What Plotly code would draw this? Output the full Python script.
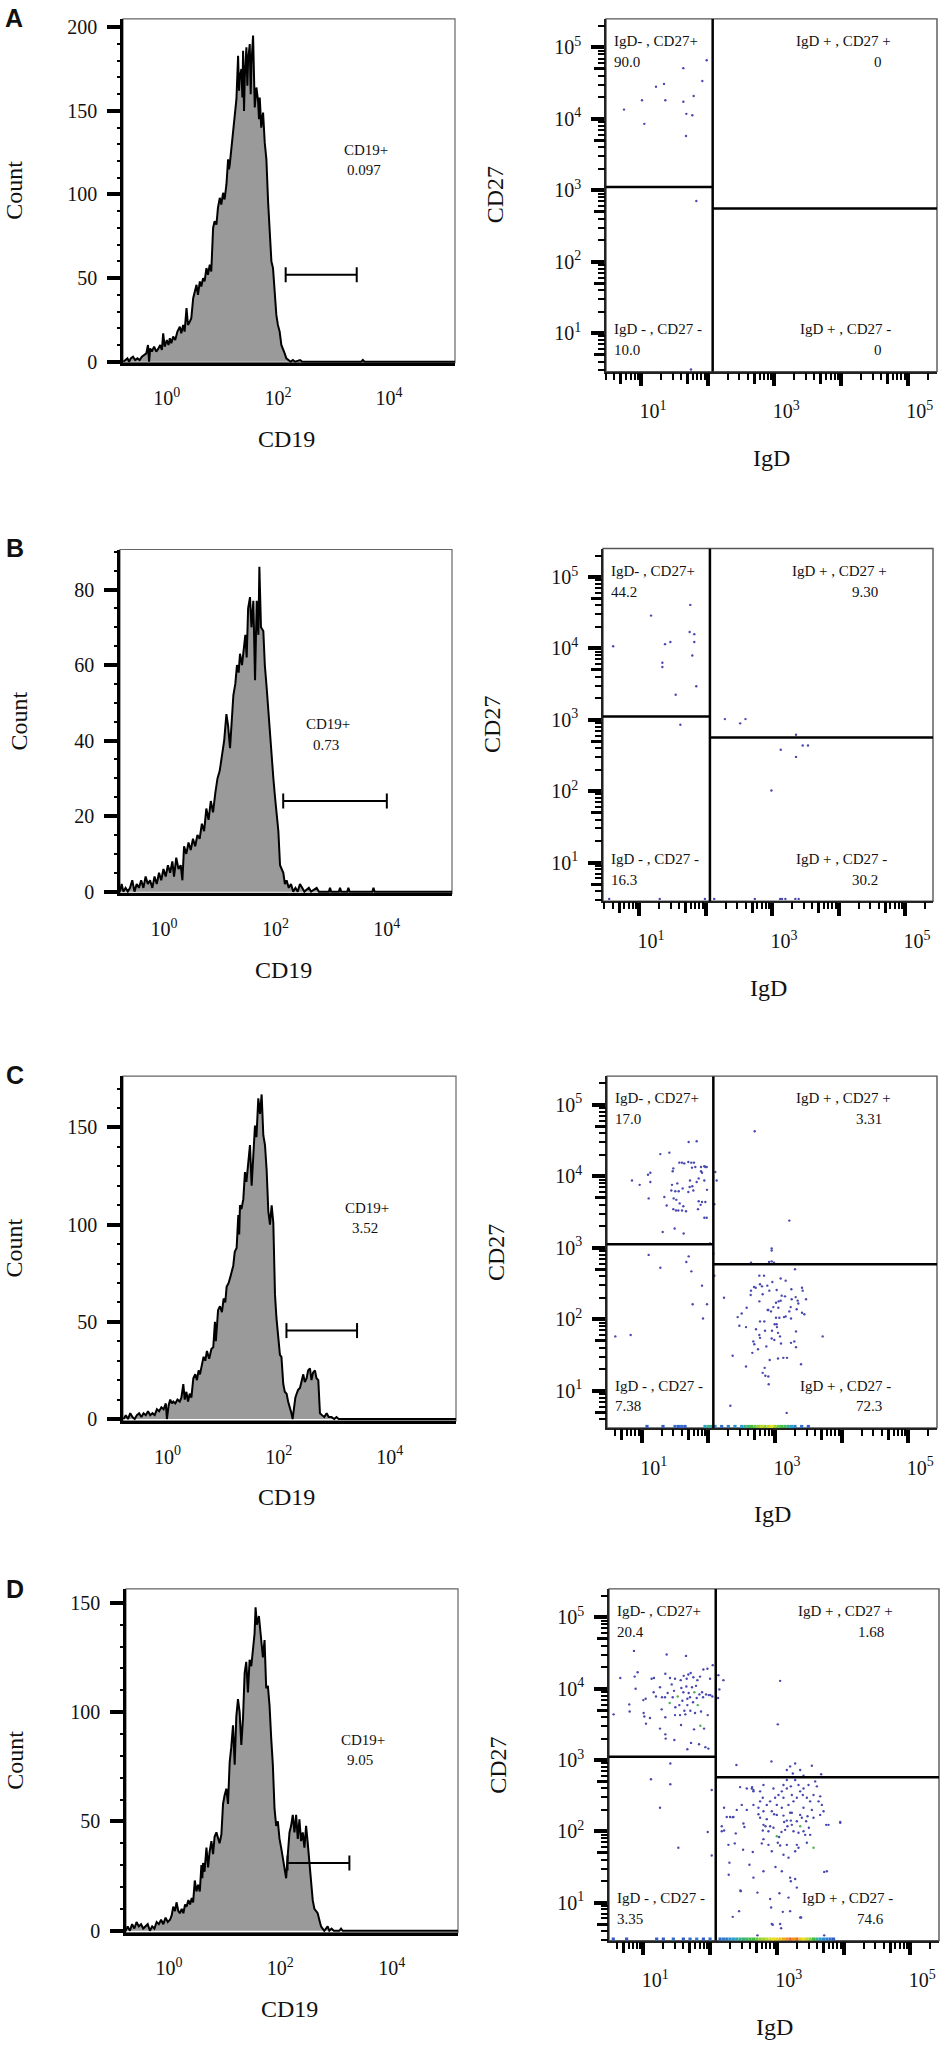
import plotly.graph_objects as go

W, H = 941, 2053
SERIF = "Liberation Serif, Times New Roman, serif"
SANS = "Liberation Sans, Arial, sans-serif"

panels = ["A", "B", "C", "D"]

# ---------------- Histogram data: log10(CD19) bin position, count ----------------
histA_log = [-0.785, -0.75, -0.71, -0.68, -0.65, -0.61, -0.57, -0.53, -0.49, -0.45, -0.41, -0.37, -0.34, -0.32,
             -0.30, -0.27, -0.23, -0.19, -0.15, -0.12, -0.09, -0.066, -0.04, 0.00, 0.03, 0.054, 0.08, 0.114,
             0.15, 0.19, 0.234, 0.26, 0.294, 0.32, 0.354, 0.38, 0.414, 0.44, 0.474, 0.50, 0.534, 0.56, 0.594,
             0.62, 0.653, 0.68, 0.713, 0.74, 0.773, 0.80, 0.833, 0.86, 0.893, 0.92, 0.953, 0.98, 1.013, 1.04,
             1.073, 1.103, 1.12, 1.133, 1.16, 1.193, 1.22, 1.253, 1.283, 1.30, 1.313, 1.343, 1.36, 1.373, 1.39,
             1.403, 1.433, 1.45, 1.463, 1.493, 1.51, 1.523, 1.553, 1.57, 1.583, 1.613, 1.643, 1.66, 1.673, 1.70,
             1.733, 1.763, 1.793, 1.823, 1.853, 1.883, 1.912, 1.942, 1.972, 2.00, 2.032, 2.062, 2.092, 2.122,
             2.152, 2.19, 2.23, 2.27, 2.31, 2.40, 2.44, 3.50, 3.53, 3.56, 5.19]
histA_count = [0, 1, 2, 0, 2, 3, 1, 2, 1, 3, 4, 5, 10, 0,
               8, 6, 9, 6, 8, 10, 7, 17, 9, 13, 10, 14, 11, 15,
               13, 18, 21, 17, 22, 18, 32, 22, 24, 26, 38, 42, 46, 40, 48,
               45, 50, 48, 56, 52, 58, 54, 80, 84, 82, 92, 98, 94, 101, 97,
               106, 121, 115, 118, 126, 137, 146, 157, 183, 162, 170, 175, 158, 186, 150,
               170, 188, 165, 180, 190, 160, 178, 195, 165, 152, 164, 156, 145, 158, 140,
               149, 131, 121, 96, 76, 60, 56, 40, 28, 22, 18, 10, 8, 5,
               2, 1, 0, 1, 0, 1, 0, 0, 1, 0, 0]

histB_log = [-0.79, -0.76, -0.73, -0.69, -0.65, -0.61, -0.57, -0.53, -0.49, -0.45, -0.41, -0.37, -0.33, -0.29,
             -0.25, -0.21, -0.17, -0.13, -0.09, -0.05, -0.01, 0.03, 0.07, 0.11, 0.15, 0.18, 0.22, 0.26, 0.30,
             0.33, 0.36, 0.40, 0.44, 0.48, 0.52, 0.56, 0.60, 0.64, 0.68, 0.72, 0.76, 0.80, 0.84, 0.88, 0.92,
             0.96, 1.00, 1.04, 1.08, 1.12, 1.15, 1.185, 1.22, 1.245, 1.28, 1.31, 1.34, 1.364, 1.40, 1.43, 1.46,
             1.484, 1.51, 1.544, 1.57, 1.604, 1.634, 1.664, 1.694, 1.712, 1.741, 1.783, 1.81, 1.843, 1.87,
             1.903, 1.93, 1.963, 1.993, 2.02, 2.053, 2.083, 2.11, 2.142, 2.17, 2.20, 2.24, 2.28, 2.32, 2.36,
             2.40, 2.44, 2.48, 2.52, 2.60, 2.64, 2.74, 2.78, 2.96, 2.98, 3.00, 3.14, 3.16, 3.18, 3.29, 3.31,
             3.33, 3.74, 3.76, 3.78, 5.17]
histB_count = [0, 2, 0, 1, 0, 1, 3, 0, 2, 1, 3, 1, 4, 2,
               3, 1, 4, 2, 5, 3, 6, 4, 7, 5, 8, 4, 9, 6, 7,
               3, 12, 10, 13, 11, 14, 12, 15, 14, 18, 16, 22, 19, 24, 21, 26,
               30, 32, 36, 40, 47, 44, 38, 46, 52, 55, 60, 58, 63, 60, 65, 68,
               62, 75, 78, 70, 77, 56, 77, 68, 86, 70, 69, 60, 54, 48,
               43, 36, 30, 25, 20, 16, 7, 6, 5, 2, 3, 1, 2, 0, 1,
               0, 2, 1, 0, 1, 0, 1, 0, 0, 1, 0, 0, 1, 0, 0, 1,
               0, 0, 1, 0, 0]

histC_log = [-0.79, -0.75, -0.71, -0.67, -0.63, -0.59, -0.55, -0.51, -0.47, -0.43, -0.39, -0.35, -0.31, -0.27,
             -0.23, -0.19, -0.15, -0.11, -0.07, -0.03, -0.01, 0.02, 0.05, 0.08, 0.105, 0.14, 0.18, 0.22, 0.25,
             0.285, 0.31, 0.34, 0.37, 0.40, 0.43, 0.465, 0.50, 0.53, 0.56, 0.585, 0.62, 0.65, 0.68, 0.71, 0.75,
             0.79, 0.824, 0.854, 0.87, 0.884, 0.91, 0.944, 0.98, 1.01, 1.04, 1.064, 1.10, 1.13, 1.16, 1.184,
             1.21, 1.244, 1.274, 1.29, 1.304, 1.33, 1.364, 1.394, 1.42, 1.454, 1.484, 1.514, 1.544, 1.574,
             1.60, 1.634, 1.664, 1.694, 1.724, 1.754, 1.784, 1.814, 1.844, 1.874, 1.904, 1.934, 1.96, 1.993,
             2.023, 2.05, 2.083, 2.11, 2.143, 2.17, 2.203, 2.23, 2.251, 2.28, 2.30, 2.323, 2.35, 2.383, 2.41,
             2.443, 2.47, 2.503, 2.53, 2.563, 2.59, 2.62, 2.653, 2.68, 2.713, 2.743, 2.78, 2.82, 2.863, 2.90,
             2.95, 3.00, 3.04, 3.08, 5.19]
histC_count = [0, 2, 0, 3, 1, 0, 2, 3, 1, 3, 2, 4, 2, 3,
               2, 5, 4, 6, 5, 8, 0, 7, 10, 8, 9, 8, 10, 9, 11,
               18, 10, 14, 9, 13, 11, 21, 23, 20, 25, 23, 28, 32, 30, 35, 31,
               36, 37, 50, 40, 48, 56, 58, 55, 62, 60, 68, 70, 73, 77, 79,
               86, 88, 105, 95, 110, 108, 113, 127, 122, 134, 141, 120, 138, 151,
               145, 165, 157, 167, 146, 141, 128, 107, 100, 110, 101, 64, 52, 42,
               33, 32, 18, 14, 13, 9, 6, 3, 0, 7, 11, 13, 15, 16, 20,
               23, 19, 21, 25, 26, 20, 24, 25, 21, 20, 3, 2, 1, 3, 1,
               1, 0, 1, 0, 0]

histD_log = [-0.775, -0.74, -0.70, -0.66, -0.62, -0.58, -0.54, -0.50, -0.46, -0.42, -0.38, -0.34, -0.30, -0.26,
             -0.22, -0.18, -0.14, -0.10, -0.06, -0.02, 0.02, 0.05, 0.078, 0.11, 0.137, 0.17, 0.197, 0.23, 0.26,
             0.29, 0.316, 0.35, 0.38, 0.41, 0.435, 0.465, 0.495, 0.525, 0.555, 0.584, 0.60, 0.614, 0.64, 0.674,
             0.704, 0.73, 0.763, 0.793, 0.82, 0.853, 0.883, 0.91, 0.942, 0.972, 1.00, 1.032, 1.061, 1.091, 1.12,
             1.151, 1.181, 1.21, 1.240, 1.270, 1.300, 1.330, 1.360, 1.389, 1.419, 1.449, 1.479, 1.509, 1.538,
             1.556, 1.580, 1.616, 1.658, 1.688, 1.717, 1.747, 1.777, 1.807, 1.837, 1.866, 1.896, 1.926, 1.956,
             1.986, 2.015, 2.045, 2.075, 2.105, 2.135, 2.165, 2.194, 2.224, 2.254, 2.284, 2.314, 2.343, 2.373,
             2.403, 2.433, 2.463, 2.493, 2.522, 2.552, 2.582, 2.612, 2.64, 2.671, 2.70, 2.731, 2.76, 2.79, 2.82,
             2.85, 2.88, 2.92, 2.96, 3.06, 3.09, 3.12, 5.19]
histD_count = [0, 2, 0, 3, 1, 4, 2, 3, 1, 2, 3, 0, 2, 1,
               4, 3, 5, 3, 6, 4, 5, 7, 11, 9, 13, 9, 8, 10, 8,
               12, 11, 14, 12, 15, 13, 23, 18, 21, 18, 30, 24, 31, 27, 38,
               29, 36, 41, 35, 43, 45, 42, 40, 44, 58, 62, 65, 58, 77, 84,
               94, 76, 98, 106, 100, 85, 97, 118, 123, 109, 124, 121, 129, 136,
               148, 140, 144, 133, 125, 133, 111, 112, 103, 88, 76, 56, 48, 50,
               42, 38, 33, 30, 24, 35, 45, 48, 53, 45, 53, 42, 51, 41,
               45, 38, 48, 40, 30, 21, 14, 10, 9, 8, 5, 2, 1, 0, 1,
               2, 0, 1, 0, 0, 1, 0, 0]

hist_logs = [histA_log, histB_log, histC_log, histD_log]
hist_counts = [histA_count, histB_count, histC_count, histD_count]
cd19_pct = ["0.097", "0.73", "3.52", "9.05"]
gate_lo = [2.14, 2.14, 2.14, 2.13]      # log10 CD19
gate_hi = [3.42, 4.00, 3.41, 3.24]
gate_count = [52, 24, 45.5, 31]
hist_yrange = [[-0.6, 205], [-0.45, 90.6], [-1.0, 176.4], [-0.9, 156.4]]
hist_xrange = [[-0.79, 5.19], [-0.79, 5.17], [-0.80, 5.19], [-0.77, 5.19]]
hist_major = [50, 20, 50, 50]
hist_minor = [10, 5, 10, 10]

# ---------------- Scatter data: log10(IgD), log10(CD27) ----------------
scA_x = [1.985, 1.635, 1.92, 1.345, 1.225, 1.015, 1.365, 1.635, 1.79, 0.745, 1.68, 1.77, 1.05, 1.675, 1.83, 1.75]
scA_y = [4.82, 4.71, 4.53, 4.49, 4.45, 4.26, 4.26, 4.24, 4.32, 4.13, 4.07, 4.05, 3.93, 3.76, 2.85, 0.49]

scB_x = [0.61, 1.18, 1.39, 1.47, 1.35, 1.35, 1.77, 1.76, 1.83, 1.83, 1.80, 1.55, 1.86, 1.62, 2.29, 2.52, 2.60,
         3.36, 3.13, 3.36, 3.46, 3.54, 2.99,
         0.55, 1.31, 1.99, 2.13, 2.74, 3.12, 3.15, 3.20, 3.35, 3.40]
scB_y = [4.03, 4.46, 4.06, 4.09, 3.80, 3.74, 4.61, 4.23, 4.20, 4.09, 3.90, 3.35, 3.47, 2.93, 3.01, 2.95, 3.01,
         2.79, 2.58, 2.48, 2.64, 2.64, 2.01,
         0.49, 0.49, 0.49, 0.49, 0.49, 0.49, 0.49, 0.49, 0.49, 0.49]

scC_x = [0.855, 0.97, 1.105, 1.095, 1.13, 1.13, 1.28, 1.415, 1.705, 1.825, 1.34, 1.375, 1.445, 1.455, 1.475,
         1.465, 1.505, 1.535, 1.52, 1.475, 1.555, 1.565, 1.605, 1.615, 1.625, 1.665, 1.55, 1.605, 1.70, 1.72,
         1.745, 1.785, 1.755, 1.76, 1.775, 1.825, 1.855, 1.89, 1.89, 1.905, 1.94, 1.955, 1.975, 1.94, 1.98,
         1.855, 1.905, 1.955, 1.845, 1.885, 1.94, 1.975, 1.315, 1.495, 1.63, 2.105, 2.125, 2.09, 1.725, 1.70,
         1.64, 1.48, 1.515, 1.57, 1.805, 2.025, 2.075,
         2.695, 3.215, 2.95, 2.95, 2.64, 2.91, 2.95, 2.985,
         1.105, 1.28, 1.67, 1.705, 1.745, 1.905, 1.765, 1.98, 1.92, 0.605, 0.835, 2.09,
         2.235, 2.365, 2.33, 2.44, 2.465, 2.565, 2.50, 2.575, 2.635, 2.64, 2.685, 2.71, 2.775, 2.805, 2.765,
         2.835, 2.885, 2.815, 2.765, 2.715, 2.765, 2.775, 2.675, 2.69, 2.66, 2.565, 2.815, 2.845, 2.855, 2.90,
         2.905, 2.84, 2.89, 2.90, 2.94, 2.975, 3.015, 3.055, 3.085, 3.135, 3.16, 3.065, 3.015, 2.995, 3.025,
         3.03, 2.955, 2.95, 3.045, 3.075, 3.09, 3.125, 3.045, 3.18, 3.215, 3.24, 3.25, 3.31, 3.34, 3.35, 3.325,
         3.235, 3.245, 3.16, 3.30, 3.405, 3.415, 3.465, 3.405, 3.44, 3.315, 3.29, 3.24, 3.315, 3.39, 3.715,
         3.175, 2.96, 3.085, 2.915, 3.025, 3.05, 3.10, 2.85, 2.775, 2.87, 2.92, 2.745, 2.99, 3.15]
scC_y = [3.94, 3.88, 3.69, 4.02, 4.05, 3.92, 4.31, 4.33, 4.48, 4.49, 3.71, 3.59, 3.80, 3.88, 4.11,
         4.07, 3.79, 3.90, 3.67, 3.54, 3.79, 4.19, 4.19, 3.83, 3.58, 3.51, 3.52, 3.52, 3.78, 3.85,
         4.19, 4.19, 4.12, 3.86, 3.80, 3.92, 3.97, 4.07, 4.13, 4.05, 4.14, 4.13, 4.13, 3.94, 3.81,
         3.65, 3.64, 3.64, 3.54, 3.60, 3.42, 3.42, 3.22, 3.27, 3.20, 4.06, 3.94, 3.61, 3.94, 4.20,
         4.18, 3.69, 3.52, 3.62, 4.13, 3.06, 2.92,
         4.63, 3.38, 2.99, 2.96, 2.79, 2.80, 2.81, 2.79,
         2.90, 2.72, 2.80, 2.88, 2.67, 2.47, 2.21, 2.21, 2.01, 1.76, 1.78, 2.61,
         2.30, 1.49, 0.79, 2.03, 1.91, 1.89, 2.08, 2.16, 2.34, 2.40, 2.45, 2.44, 2.49, 2.46, 2.61,
         2.61, 2.47, 2.35, 2.25, 1.86, 1.78, 1.74, 1.69, 1.65, 1.53, 1.34, 1.25, 1.32, 1.21, 1.20,
         1.09, 1.97, 2.13, 2.13, 2.11, 2.17, 2.23, 2.25, 2.26, 2.03, 2.04, 2.02, 2.02, 1.93, 1.93,
         1.89, 1.84, 1.73, 1.81, 1.76, 1.66, 1.46, 1.45, 1.46, 2.11, 2.01, 2.28, 2.31, 2.26, 2.22, 2.14,
         2.17, 2.42, 2.54, 2.70, 2.44, 2.40, 2.28, 2.09, 2.07, 1.83, 1.69, 1.67, 1.61, 1.37, 1.76,
         0.69, 2.52, 2.57, 2.40, 2.41, 2.16, 2.33, 1.84, 1.97, 1.62, 1.43, 1.58, 1.71, 2.32]

scD_x = [0.885, 0.555, 0.79, 0.795, 1.00, 1.035, 1.005, 1.015, 1.10, 1.04, 1.155, 1.19, 1.25, 1.28, 1.325,
         1.275, 1.25, 1.33, 1.33, 1.335, 1.365, 1.425, 1.44, 1.46, 1.48, 1.475, 1.465, 1.54, 1.55, 1.565,
         1.57, 1.585, 1.60, 1.615, 1.63, 1.645, 1.66, 1.66, 1.68, 1.70, 1.705, 1.715, 1.73, 1.745, 1.76,
         1.775, 1.79, 1.80, 1.835, 1.84, 1.865, 1.88, 1.895, 1.91, 1.93, 1.94, 1.965, 1.975, 1.98, 2.005,
         2.035, 1.66,
         0.86, 1.35, 1.64, 0.655, 0.915, 0.87, 1.125, 1.16, 1.33, 1.40, 1.475, 1.605, 1.675, 1.71, 1.75,
         1.85, 1.90, 1.96, 2.04, 2.00, 1.81, 1.56, 1.65,
         1.405, 1.115, 1.405, 2.025, 1.25, 1.525, 1.965, 2.025,
         2.12, 2.14, 2.125, 2.20, 3.05, 3.015, 2.92, 2.395, 3.15, 3.20, 3.275, 3.24, 3.35, 3.525, 3.665, 3.40,
         2.45, 2.63, 2.65,
         2.175, 2.21, 2.34, 2.30, 2.385, 2.50, 2.515, 2.29, 2.28, 2.37, 2.495, 2.59, 2.64, 2.455, 2.435, 2.34,
         2.71, 2.79, 2.83, 2.775, 2.80, 2.75, 2.725, 2.875, 2.90, 2.95, 2.875, 2.925, 2.96, 3.015, 3.035,
         3.05, 3.10, 3.11, 3.125, 3.15, 3.15, 3.175, 3.225, 3.21, 3.225, 3.25, 3.275, 3.30, 3.325, 3.375,
         3.40, 3.44, 3.46, 3.48, 3.50, 3.71, 3.75, 3.74, 3.95, 3.20, 3.21, 3.275, 3.30, 3.04, 3.175, 2.90,
         2.915, 3.065, 3.05, 2.94, 3.35, 3.20, 3.09, 2.85, 2.80, 3.07, 3.16, 3.30, 3.325, 3.425, 3.45, 3.10,
         3.075, 2.98, 2.80, 2.65,
         2.25, 2.35, 2.175, 2.275, 2.21, 2.40, 2.475, 2.55, 2.625, 2.65, 2.75, 2.79, 2.725, 2.80, 2.85, 2.90,
         2.975, 3.0, 3.025, 3.075, 3.10, 3.15, 3.21, 3.275, 3.325, 3.35, 3.225, 3.25, 3.30, 3.39, 3.45, 3.50,
         3.55, 3.60, 3.65, 3.675, 3.625, 3.475, 3.575, 3.525, 3.10, 3.175, 2.925, 3.075, 3.40, 3.70, 3.775,
         3.95, 2.80, 2.95, 3.40, 3.15, 2.75, 2.65, 2.55, 3.0, 3.20, 3.35, 3.65, 3.55,
         2.46, 2.925, 3.365, 3.71, 2.71]
scD_y = [4.00, 3.64, 3.78, 3.68, 3.84, 3.86, 3.66, 3.61, 3.59, 3.51, 3.95, 3.89, 4.02, 3.88, 3.88,
         3.71, 3.44, 3.60, 3.36, 3.30, 3.94, 4.06, 3.88, 3.97, 3.74, 3.63, 3.28, 3.77, 3.63, 3.49,
         4.01, 3.83, 3.95, 3.69, 3.64, 4.03, 3.86, 3.77, 3.94, 3.88, 3.69, 3.24, 4.02, 3.81, 3.43,
         3.66, 4.04, 3.87, 3.22, 3.92, 3.68, 3.95, 3.88, 3.44, 3.18, 3.92, 3.63, 3.16, 3.91, 3.91,
         3.89, 3.15,
         4.53, 4.48, 4.46, 4.15, 4.23, 4.17, 4.14, 4.15, 4.21, 4.15, 4.14, 4.18, 4.20, 4.22, 4.16,
         4.17, 4.27, 4.28, 4.33, 4.14, 4.12, 4.12, 4.14,
         2.95, 2.73, 2.66, 2.58, 2.33, 1.77, 1.99, 1.66,
         3.87, 3.99, 4.19, 4.12, 4.11, 3.50, 2.98, 2.93, 2.86, 2.91, 2.95, 2.81, 2.86, 2.92, 2.80, 2.78,
         2.62, 2.62, 2.58,
         2.07, 2.01, 2.198, 2.20, 1.97, 2.11, 2.06, 1.56, 1.39, 1.83, 1.74, 1.53, 1.71, 1.17, 0.88, 0.80,
         1.14, 2.01, 2.07, 1.83, 1.89, 2.19, 2.24, 2.00, 2.07, 2.05, 1.81, 1.72, 2.24, 1.84, 1.92,
         1.80, 2.22, 2.13, 2.02, 2.15, 1.81, 1.63, 2.26, 2.15, 2.09, 2.00, 1.72, 1.81, 1.77, 2.19,
         2.00, 2.14, 2.21, 2.05, 1.95, 1.43, 1.44, 2.09, 2.13, 1.35, 1.30, 1.33, 1.21, 1.13, 1.07, 1.05,
         0.93, 0.64, 0.70, 0.69, 0.79, 0.88, 0.87, 2.17, 2.09, 1.99, 2.07, 2.14, 1.98, 1.95, 1.84, 1.67,
         1.44, 1.50, 1.44, 1.35,
         2.20, 2.20, 2.0, 1.81, 2.33, 2.30, 2.37, 2.60, 2.60, 2.56, 2.56, 2.47, 2.33, 2.28, 2.37, 2.42,
         2.47, 2.37, 2.51, 2.56, 2.65, 2.60, 2.63, 2.72, 2.65, 2.56, 2.51, 2.42, 2.47, 2.51, 2.47, 2.42,
         2.51, 2.63, 2.49, 2.37, 2.42, 2.65, 2.70, 2.30, 2.47, 2.37, 2.28, 2.33, 2.33, 2.28, 2.09,
         2.12, 2.65, 2.60, 2.60, 2.72, 2.42, 2.37, 2.30, 2.23, 2.26, 2.23, 2.23, 2.19,
         1.16, 0.70, 0.79, 0.54, 0.54]

scD_green_x = [1.395, 1.515, 1.765, 1.815, 1.855, 3.0, 3.35, 3.55]
scD_green_y = [3.80, 3.89, 3.95, 3.77, 3.48, 1.93, 2.07, 1.77]

# events piled up on the IgD axis (log10 IgD, relative density)
stripC_x = [1.08, 1.32, 1.50, 1.55, 1.60, 1.65, 1.95, 2.00, 2.05, 2.10, 2.20, 2.30, 2.40, 2.50, 2.55, 2.60,
            2.65, 2.70, 2.75, 2.80, 2.85, 2.90, 2.95, 3.00, 3.05, 3.10, 3.15, 3.20, 3.25, 3.30, 3.40, 3.50]
stripC_d = [0.1, 0.1, 0.15, 0.1, 0.15, 0.1, 0.3, 0.45, 0.35, 0.25, 0.15, 0.2, 0.25, 0.3, 0.4, 0.45,
            0.5, 0.55, 0.6, 0.65, 0.6, 0.65, 0.7, 0.6, 0.55, 0.5, 0.45, 0.4, 0.3, 0.2, 0.15, 0.1]
stripD_x = [0.55, 0.75, 1.20, 1.30, 1.45, 1.60, 1.70, 1.80, 1.90, 2.00, 2.15, 2.20, 2.25, 2.30, 2.35, 2.40,
            2.45, 2.50, 2.55, 2.60, 2.65, 2.70, 2.75, 2.80, 2.85, 2.90, 2.95, 3.00, 3.05, 3.10, 3.15, 3.20,
            3.25, 3.30, 3.35, 3.40, 3.45, 3.50, 3.55, 3.60, 3.65, 3.70, 3.75, 3.80, 3.85]
stripD_d = [0.1, 0.1, 0.1, 0.1, 0.15, 0.1, 0.15, 0.2, 0.1, 0.15, 0.15, 0.2, 0.2, 0.25, 0.3, 0.35,
            0.4, 0.42, 0.45, 0.5, 0.5, 0.55, 0.6, 0.62, 0.65, 0.68, 0.7, 0.72, 0.75, 0.8, 0.85, 0.9,
            0.85, 0.9, 0.75, 0.7, 0.65, 0.6, 0.5, 0.4, 0.3, 0.25, 0.2, 0.15, 0.1]

sc_x = [scA_x, scB_x, scC_x, scD_x]
sc_y = [scA_y, scB_y, scC_y, scD_y]
strips = [None, None, (stripC_x, stripC_d), (stripD_x, stripD_d)]

quad_x = [2.075, 2.065, 2.075, 2.085]          # log10 IgD gate
quad_y_left = [3.047, 3.047, 3.05, 3.047]      # log10 CD27 gate (IgD-)
quad_y_right = [2.744, 2.753, 2.77, 2.758]     # log10 CD27 gate (IgD+)
quad_names = ["IgD- , CD27+", "IgD + , CD27 +", "IgD - , CD27 -", "IgD + , CD27 -"]
quad_pct = [["90.0", "0", "10.0", "0"],
            ["44.2", "9.30", "16.3", "30.2"],
            ["17.0", "3.31", "7.38", "72.3"],
            ["20.4", "1.68", "3.35", "74.6"]]
sc_xrange = [[0.475, 5.44], [0.457, 5.42], [0.48, 5.43], [0.486, 5.43]]
sc_yrange = [[0.46, 5.40], [0.457, 5.40], [0.48, 5.40], [0.466, 5.40]]

# ---------------- layout geometry (pixels: left, right, top, bottom) ----------------
hist_boxes = [(123, 455, 16, 362), (120, 452, 550, 896), (123, 456, 1080, 1427), (126, 458, 1596, 1942)]
sc_boxes = [(606, 937, 16, 371), (603, 933, 549, 904), (607, 937, 1080, 1434), (609, 939, 1596, 1950)]
count_x = [14, 19, 14, 15]
letter_pos = [(14, 15), (15, 548), (15, 1079), (15, 1596)]
hist_lab_pos = [(0.732, 0.618, 0.726, 0.561), (0.627, 0.492, 0.620, 0.431),
                (0.732, 0.618, 0.727, 0.561), (0.713, 0.561, 0.705, 0.502)]


def dom(box):
    l, r, t, b = box
    return [l / W, r / W], [1 - b / H, 1 - t / H]


def an(n):
    return "" if n == 1 else str(n)


def note(text, xref, yref, x, y, size, family=SERIF, xanchor="center", angle=0):
    return dict(text=text, xref=xref, yref=yref, x=x, y=y, xanchor=xanchor, yanchor="middle",
                textangle=angle, showarrow=False, font=dict(family=family, size=size, color="#111"))


fig = go.Figure()
layout = {}
shapes = []
annotations = []
small_vals = [k * 10 ** d for d in range(0, 6) for k in (2, 3, 4, 6, 7, 8, 9)]
half_vals = [5 * 10 ** d for d in range(0, 6)]
tickfont = dict(family=SERIF, size=20, color="#111")
bare = dict(showticklabels=False, showline=False, showgrid=False, zeroline=False, ticks="outside",
            tickcolor="black", tickmode="array")
axis_counter = [9]


def holder(xa, ya):
    # empty trace so that the overlay axis pair is registered and its ticks are drawn
    fig.add_trace(go.Scatter(x=[], y=[], xaxis=xa, yaxis=ya, mode="markers",
                             hoverinfo="skip", showlegend=False))


def overlay(kind, base, anchor, rng, vals, tlen, twidth, log=True):
    n = str(axis_counter[0])
    axis_counter[0] += 1
    ax = dict(bare, overlaying=kind + base, anchor=anchor, range=rng, tickvals=vals,
              ticklen=tlen, tickwidth=twidth, side="bottom" if kind == "x" else "left")
    if log:
        ax["type"] = "log"
    layout[kind + "axis" + n] = ax
    if kind == "x":
        holder("x" + n, anchor)
    else:
        holder(anchor, "y" + n)


for i, p in enumerate(panels):
    hs, ss = an(2 * i + 1), an(2 * i + 2)
    # ----- histogram -----
    xd, yd = dom(hist_boxes[i])
    fig.add_trace(go.Scatter(
        x=[10 ** v for v in hist_logs[i]], y=hist_counts[i], mode="lines",
        line=dict(color="black", width=2), fill="tozeroy", fillcolor="#9a9a9a",
        xaxis="x" + hs, yaxis="y" + hs, hoverinfo="skip", showlegend=False))
    layout["xaxis" + hs] = dict(
        domain=xd, anchor="y" + hs, type="log", range=hist_xrange[i], showline=True,
        linecolor="black", linewidth=2.5, ticks="", tickvals=[1, 100, 1e4],
        ticktext=["10<sup>0</sup>", "10<sup>2</sup>", "10<sup>4</sup>"], tickfont=tickfont,
        ticklabelstandoff=16, showgrid=False, zeroline=False)
    layout["yaxis" + hs] = dict(
        domain=yd, anchor="x" + hs, range=hist_yrange[i], showline=True, linecolor="black",
        linewidth=2.5, ticks="outside", ticklen=13, tickwidth=3.5, tickcolor="black",
        tick0=0, dtick=hist_major[i], tickfont=tickfont, ticklabelstandoff=6,
        showgrid=False, zeroline=False)
    top = int(hist_yrange[i][1])
    overlay("y", hs, "x" + hs, hist_yrange[i],
            [v for v in range(0, top + 1, hist_minor[i]) if v % hist_major[i]], 5, 1.8, log=False)
    shapes.append(dict(type="rect", xref="x" + hs + " domain", yref="y" + hs + " domain",
                       x0=0, x1=1, y0=0, y1=1, line=dict(color="#666", width=1.2), layer="below"))
    # gate bar
    gy = gate_count[i]
    shapes.append(dict(type="line", xref="x" + hs, yref="y" + hs, x0=10 ** gate_lo[i], x1=10 ** gate_hi[i],
                       y0=gy, y1=gy, line=dict(color="black", width=2)))
    for gx in (gate_lo[i], gate_hi[i]):
        shapes.append(dict(type="line", xref="x" + hs, yref="y" + hs, ysizemode="pixel", yanchor=gy,
                           x0=10 ** gx, x1=10 ** gx, y0=-7.5, y1=7.5, line=dict(color="black", width=2)))
    lx, ly, vx, vy = hist_lab_pos[i]
    annotations.append(note("CD19+", "x" + hs + " domain", "y" + hs + " domain", lx, ly, 15))
    annotations.append(note(cd19_pct[i], "x" + hs + " domain", "y" + hs + " domain", vx, vy, 15))
    l, r, t, b = hist_boxes[i]
    annotations.append(note("CD19", "paper", "paper", ((l + r) / 2 - 3) / W, 1 - (b + 77) / H, 24))
    annotations.append(note("Count", "paper", "paper", count_x[i] / W, 1 - ((t + b) / 2) / H, 24, angle=-90))
    annotations.append(note(f"<b>{p}</b>", "paper", "paper", letter_pos[i][0] / W,
                            1 - letter_pos[i][1] / H, 25, family=SANS))

    # ----- scatter -----
    xd, yd = dom(sc_boxes[i])
    fig.add_trace(go.Scatter(
        x=[10 ** v for v in sc_x[i]], y=[10 ** v for v in sc_y[i]], mode="markers",
        marker=dict(size=2.4, color="#4848b0"), xaxis="x" + ss, yaxis="y" + ss,
        hoverinfo="skip", showlegend=False))
    if p == "D":
        fig.add_trace(go.Scatter(
            x=[10 ** v for v in scD_green_x], y=[10 ** v for v in scD_green_y], mode="markers",
            marker=dict(size=2.4, color="#4caf50"), xaxis="x" + ss, yaxis="y" + ss,
            hoverinfo="skip", showlegend=False))
    if strips[i] is not None:
        sx, sd = strips[i]
        fig.add_trace(go.Scatter(
            x=[10 ** v for v in sx], y=[10 ** (sc_yrange[i][0] + 0.02)] * len(sx), mode="markers",
            marker=dict(size=3.2, symbol="square", color=sd, cmin=0, cmax=1,
                        colorscale=[[0, "#3b3bc0"], [0.3, "#2aa0d0"], [0.5, "#40c040"],
                                    [0.7, "#e8e020"], [0.85, "#f09020"], [1, "#e02020"]],
                        line=dict(width=0)),
            xaxis="x" + ss, yaxis="y" + ss, hoverinfo="skip", showlegend=False))
    layout["xaxis" + ss] = dict(
        domain=xd, anchor="y" + ss, type="log", range=sc_xrange[i], showline=True, linecolor="#222",
        linewidth=1.5, ticks="outside", ticklen=13, tickwidth=4, tickcolor="black",
        tickvals=[10, 100, 1e3, 1e4, 1e5],
        ticktext=["10<sup>1</sup>", "", "10<sup>3</sup>", "", "10<sup>5</sup>"],
        tickfont=tickfont, ticklabelshift=12, ticklabelstandoff=8, ticklabeloverflow="allow",
        showgrid=False, zeroline=False)
    layout["yaxis" + ss] = dict(
        domain=yd, anchor="x" + ss, type="log", range=sc_yrange[i], showline=True, linecolor="#222",
        linewidth=1.5, ticks="outside", ticklen=13, tickwidth=4, tickcolor="black",
        tickvals=[10, 100, 1e3, 1e4, 1e5],
        ticktext=["10<sup>1</sup>", "10<sup>2</sup>", "10<sup>3</sup>", "10<sup>4</sup>", "10<sup>5</sup>"],
        tickfont=tickfont, ticklabelstandoff=6, ticklabeloverflow="allow",
        showgrid=False, zeroline=False)
    overlay("x", ss, "y" + ss, sc_xrange[i], small_vals, 7, 2)
    overlay("x", ss, "y" + ss, sc_xrange[i], half_vals, 11, 3)
    overlay("y", ss, "x" + ss, sc_yrange[i], small_vals, 7, 2)
    overlay("y", ss, "x" + ss, sc_yrange[i], half_vals, 11, 3)
    shapes.append(dict(type="rect", xref="x" + ss + " domain", yref="y" + ss + " domain",
                       x0=0, x1=1, y0=0, y1=1, line=dict(color="#555", width=1.4), layer="below"))
    qx = 10 ** quad_x[i]
    x_lo, x_hi = 10 ** sc_xrange[i][0], 10 ** sc_xrange[i][1]
    y_lo, y_hi = 10 ** sc_yrange[i][0], 10 ** sc_yrange[i][1]
    qline = dict(color="black", width=2.5)
    shapes.append(dict(type="line", xref="x" + ss, yref="y" + ss, x0=qx, x1=qx, y0=y_lo, y1=y_hi, line=qline))
    shapes.append(dict(type="line", xref="x" + ss, yref="y" + ss, x0=x_lo, x1=qx,
                       y0=10 ** quad_y_left[i], y1=10 ** quad_y_left[i], line=qline))
    shapes.append(dict(type="line", xref="x" + ss, yref="y" + ss, x0=qx, x1=x_hi,
                       y0=10 ** quad_y_right[i], y1=10 ** quad_y_right[i], line=qline))
    specs = [(0.018, 0.937, 0.018, 0.877, "left"), (0.866, 0.937, 0.840, 0.877, "right"),
             (0.018, 0.120, 0.018, 0.061, "left"), (0.866, 0.120, 0.840, 0.061, "right")]
    for q, (tx, ty, vx2, vy2, anc) in enumerate(specs):
        annotations.append(note(quad_names[q], "x" + ss + " domain", "y" + ss + " domain", tx, ty, 15,
                                xanchor=anc))
        annotations.append(note(quad_pct[i][q], "x" + ss + " domain", "y" + ss + " domain", vx2, vy2, 15,
                                xanchor=anc))
    l, r, t, b = sc_boxes[i]
    annotations.append(note("IgD", "paper", "paper", ((l + r) / 2) / W, 1 - (b + 87) / H, 24))
    annotations.append(note("CD27", "paper", "paper", (l - 111) / W, 1 - ((t + b) / 2) / H, 24, angle=-90))

fig.update_layout(
    width=W, height=H, margin=dict(l=0, r=0, t=0, b=0),
    paper_bgcolor="white", plot_bgcolor="white", showlegend=False,
    shapes=shapes, annotations=annotations, **layout)

# remove the page's default body margin so the 941x2053 figure fills the window exactly
fig.write_html("out.html", config={"displayModeBar": False},
               post_script="document.body.style.margin='0';document.body.style.overflow='hidden';")
